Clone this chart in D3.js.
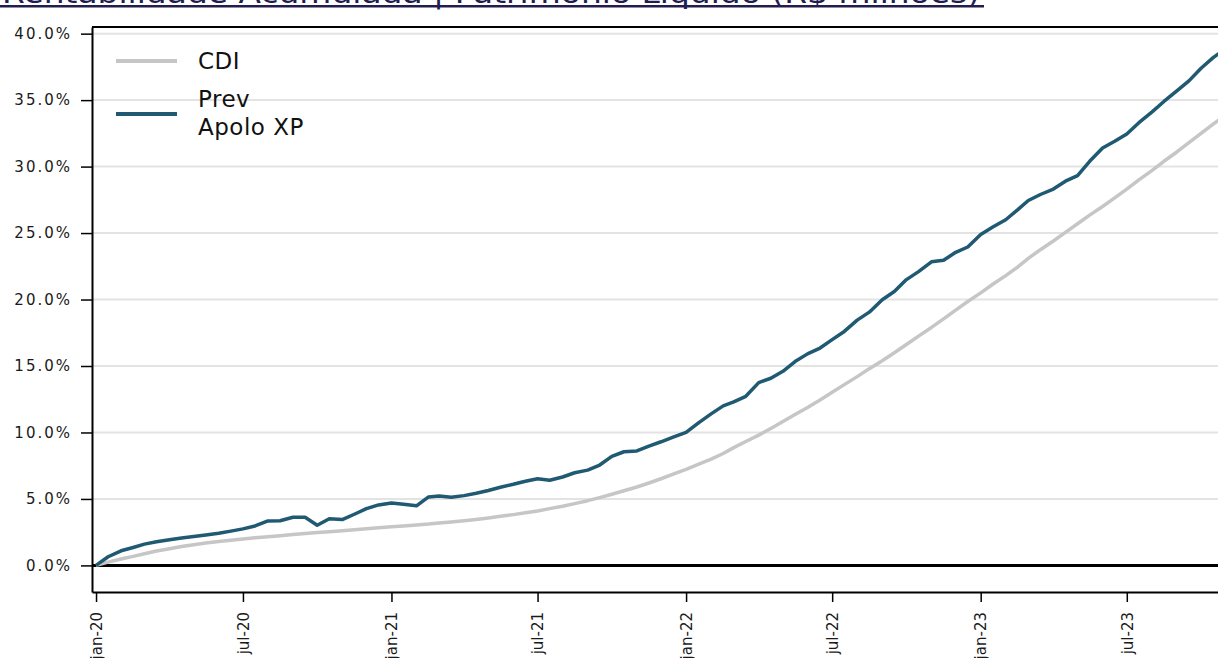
<!DOCTYPE html>
<html>
<head>
<meta charset="utf-8">
<script src="https://d3js.org/d3.v7.min.js"></script>
<style>
  body { margin: 0; background: #fff; }
  svg { display: block; font-family: "DejaVu Sans", Verdana, sans-serif; }
</style>
</head>
<body>
<svg id="chart" width="1218" height="658"></svg>
<script>
// datas (quinzenal)
const dates = [
  '2020-01-01','2020-01-16','2020-02-01','2020-02-16','2020-03-01','2020-03-16','2020-04-01','2020-04-16',
  '2020-05-01','2020-05-16','2020-06-01','2020-06-16','2020-07-01','2020-07-16','2020-08-01','2020-08-16',
  '2020-09-01','2020-09-16','2020-10-01','2020-10-16','2020-11-01','2020-11-16','2020-12-01','2020-12-16',
  '2021-01-01','2021-01-16','2021-02-01','2021-02-16','2021-03-01','2021-03-16','2021-04-01','2021-04-16',
  '2021-05-01','2021-05-16','2021-06-01','2021-06-16','2021-07-01','2021-07-16','2021-08-01','2021-08-16',
  '2021-09-01','2021-09-16','2021-10-01','2021-10-16','2021-11-01','2021-11-16','2021-12-01','2021-12-16',
  '2022-01-01','2022-01-16','2022-02-01','2022-02-16','2022-03-01','2022-03-16','2022-04-01','2022-04-16',
  '2022-05-01','2022-05-16','2022-06-01','2022-06-16','2022-07-01','2022-07-16','2022-08-01','2022-08-16',
  '2022-09-01','2022-09-16','2022-10-01','2022-10-16','2022-11-01','2022-11-16','2022-12-01','2022-12-16',
  '2023-01-01','2023-01-16','2023-02-01','2023-02-16','2023-03-01','2023-03-16','2023-04-01','2023-04-16',
  '2023-05-01','2023-05-16','2023-06-01','2023-06-16','2023-07-01','2023-07-16','2023-08-01','2023-08-16',
  '2023-09-01','2023-09-16','2023-10-01','2023-10-16','2023-11-01'
];

// rentabilidade acumulada (%)
const cdi = [
  0.00, 0.25, 0.48, 0.68, 0.88, 1.08, 1.26, 1.42, 1.56, 1.68, 1.80, 1.90, 1.98, 2.08, 2.16, 2.24,
  2.32, 2.40, 2.47, 2.54, 2.61, 2.68, 2.76, 2.83, 2.90, 2.97, 3.04, 3.11, 3.19, 3.27, 3.36, 3.46,
  3.57, 3.69, 3.82, 3.96, 4.10, 4.27, 4.45, 4.65, 4.87, 5.10, 5.35, 5.62, 5.90, 6.20, 6.52, 6.86,
  7.22, 7.60, 8.00, 8.42, 8.86, 9.32, 9.80, 10.30, 10.82, 11.35, 11.90, 12.45, 13.02, 13.60, 14.20, 14.80,
  15.40, 16.00, 16.62, 17.25, 17.90, 18.55, 19.20, 19.85, 20.50, 21.15, 21.80, 22.45, 23.10, 23.75, 24.40, 25.05,
  25.70, 26.35, 27.00, 27.65, 28.30, 29.00, 29.70, 30.40, 31.10, 31.80, 32.50, 33.20, 33.90
];

const apolo = [
  0.00, 0.65, 1.10, 1.35, 1.60, 1.78, 1.93, 2.06, 2.17, 2.29, 2.42, 2.58, 2.75, 2.97, 3.35, 3.36,
  3.62, 3.62, 3.02, 3.51, 3.45, 3.85, 4.27, 4.55, 4.70, 4.60, 4.48, 5.15, 5.22, 5.12, 5.25, 5.43,
  5.64, 5.88, 6.10, 6.33, 6.52, 6.41, 6.65, 6.97, 7.17, 7.55, 8.20, 8.55, 8.61, 8.98, 9.30, 9.65,
  10.00, 10.70, 11.40, 12.00, 12.30, 12.72, 13.75, 14.08, 14.60, 15.33, 15.93, 16.35, 16.98, 17.60, 18.45, 19.05,
  19.98, 20.60, 21.50, 22.10, 22.84, 22.95, 23.55, 23.95, 24.90, 25.45, 26.00, 26.76, 27.45, 27.90, 28.31, 28.90,
  29.32, 30.40, 31.40, 31.90, 32.45, 33.30, 34.10, 34.90, 35.70, 36.45, 37.40, 38.20, 38.90
];

const yTicks = [0, 5, 10, 15, 20, 25, 30, 35, 40];
const xTickDates = ['2020-01-01','2020-07-01','2021-01-01','2021-07-01','2022-01-01','2022-07-01','2023-01-01','2023-07-01'];
const xTickLabels = ['jan-20','jul-20','jan-21','jul-21','jan-22','jul-22','jan-23','jul-23'];

const title = 'Rentabilidade Acumulada | Patrimônio Líquido (R$ milhões)';

const parse = d3.timeParse('%Y-%m-%d');
const svg = d3.select('#chart');

const plotLeft = 92, plotRight = 1218, plotTop = 27, plotBottom = 592;
const axisFont = '"DejaVu Sans", Verdana, sans-serif';

const x = d3.scaleTime()
  .domain([parse('2019-12-27'), parse('2023-10-22')])
  .range([plotLeft, plotRight]);

const y = d3.scaleLinear()
  .domain([-2, 40.5])
  .range([plotBottom, plotTop]);

// titulo (cortado no topo, como no original)
svg.append('text')
  .attr('x', 2)
  .attr('y', 3)
  .attr('textLength', 978)
  .attr('lengthAdjust', 'spacingAndGlyphs')
  .style('font-size', '28px')
  .style('fill', '#221c50')
  .text(title);
svg.append('rect')
  .attr('x', 0).attr('y', 5)
  .attr('width', 984).attr('height', 2.5)
  .attr('fill', '#221c50');

svg.append('clipPath').attr('id', 'plot')
  .append('rect')
  .attr('x', plotLeft).attr('y', plotTop)
  .attr('width', plotRight - plotLeft).attr('height', plotBottom - plotTop);

// grade
svg.append('g')
  .selectAll('line')
  .data(yTicks.filter(d => d !== 0))
  .join('line')
  .attr('x1', plotLeft).attr('x2', plotRight)
  .attr('y1', d => y(d)).attr('y2', d => y(d))
  .attr('stroke', '#e3e3e3')
  .attr('stroke-width', 2);

// linha do zero
svg.append('line')
  .attr('x1', plotLeft).attr('x2', plotRight)
  .attr('y1', y(0)).attr('y2', y(0))
  .attr('stroke', '#000')
  .attr('stroke-width', 3);

const line = series => d3.line()
  .x((d, i) => x(parse(dates[i])))
  .y(d => y(d))(series);

const g = svg.append('g').attr('clip-path', 'url(#plot)');

g.append('path')
  .attr('d', line(cdi))
  .attr('fill', 'none')
  .attr('stroke', '#c6c6c6')
  .attr('stroke-width', 3.5)
  .attr('stroke-linejoin', 'round');

g.append('path')
  .attr('d', line(apolo))
  .attr('fill', 'none')
  .attr('stroke', '#1f5a72')
  .attr('stroke-width', 3.5)
  .attr('stroke-linejoin', 'round');

// eixo y
const yAxis = svg.append('g')
  .attr('transform', `translate(${plotLeft},0)`)
  .call(d3.axisLeft(y)
    .tickValues(yTicks)
    .tickFormat(d => d3.format('.1f')(d) + '%')
    .tickSize(11)
    .tickSizeOuter(0)
    .tickPadding(9))
  .attr('font-family', axisFont)
  .attr('font-size', 15);
yAxis.select('.domain').attr('stroke', '#000').attr('stroke-width', 2);
yAxis.selectAll('.tick line').attr('stroke', '#000').attr('stroke-width', 1.5);
yAxis.selectAll('text')
  .style('letter-spacing', '2px')
  .style('fill', '#1a1a1a');

// borda superior
svg.append('line')
  .attr('x1', plotLeft).attr('x2', plotRight)
  .attr('y1', plotTop).attr('y2', plotTop)
  .attr('stroke', '#000')
  .attr('stroke-width', 2);

// eixo x
const xAxis = svg.append('g')
  .attr('transform', `translate(0,${plotBottom})`)
  .call(d3.axisBottom(x)
    .tickValues(xTickDates.map(parse))
    .tickFormat((d, i) => xTickLabels[i])
    .tickSize(10)
    .tickSizeOuter(0))
  .attr('font-family', axisFont)
  .attr('font-size', 15);
xAxis.select('.domain').attr('stroke', '#000').attr('stroke-width', 2);
xAxis.selectAll('.tick line').attr('stroke', '#000').attr('stroke-width', 1.5);
xAxis.selectAll('text')
  .attr('transform', 'rotate(-90)')
  .attr('x', -20)
  .attr('y', 0)
  .attr('dy', '0.35em')
  .style('text-anchor', 'end')
  .style('fill', '#1a1a1a');

// legenda
const legend = [
  { color: '#c6c6c6', lineY: 61, labels: ['CDI'], textY: 69 },
  { color: '#1f5a72', lineY: 114, labels: ['Prev', 'Apolo XP'], textY: 107 }
];
const lg = svg.append('g');
legend.forEach(item => {
  lg.append('line')
    .attr('x1', 116).attr('x2', 177)
    .attr('y1', item.lineY).attr('y2', item.lineY)
    .attr('stroke', item.color)
    .attr('stroke-width', 4);
  item.labels.forEach((t, i) => {
    lg.append('text')
      .attr('x', 198)
      .attr('y', item.textY + i * 28)
      .style('font-size', '23px')
      .style('letter-spacing', '0.5px')
      .style('fill', '#111')
      .text(t);
  });
});
</script>
</body>
</html>
